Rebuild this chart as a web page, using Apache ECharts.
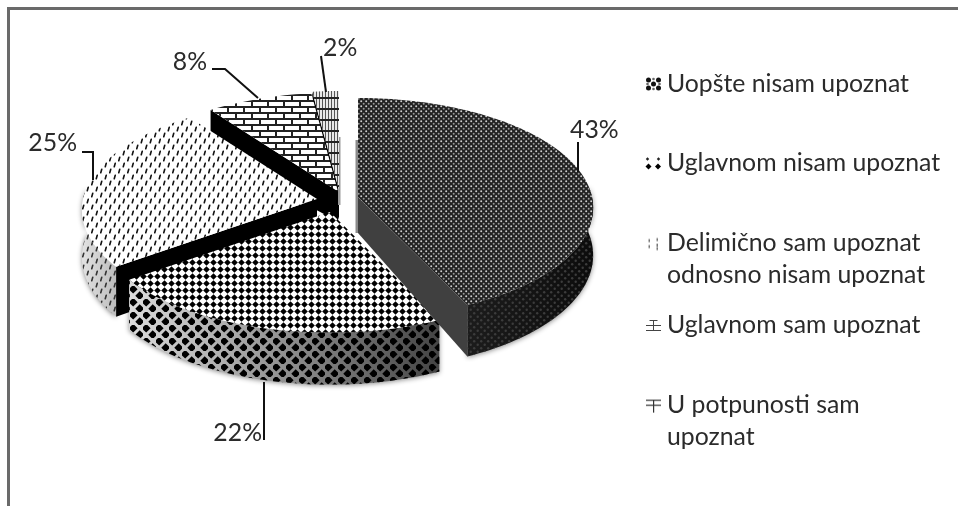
<!DOCTYPE html>
<html><head><meta charset="utf-8">
<style>html,body{margin:0;padding:0;background:#fff}#c{width:958px;height:506px;filter:blur(0.4px)}</style>
<script src="https://cdn.jsdelivr.net/npm/echarts@6/dist/echarts.min.js"></script>
</head><body><div id="c"></div>
<script>
// ---- data ----
const categories = ['Uopšte nisam upoznat','Uglavnom nisam upoznat','Delimično sam upoznat odnosno nisam upoznat','Uglavnom sam upoznat','U potpunosti sam upoznat'];
const legendLabels = ['Uopšte nisam upoznat','Uglavnom nisam upoznat','Delimično sam upoznat\nodnosno nisam upoznat','Uglavnom sam upoznat','U potpunosti sam\nupoznat'];
const values = [43,22,25,8,2];

// ---- projection and look ----
const RX=234, RY=108.7, K=0.098, DEPTH=47;
const apexes=[[358,197],[330,212],[317,199],[338,191.5],[339,190]];
const apexDepth=[36,47,47,30,30];
const FONT='Lato, "Open Sans", sans-serif', INK='#2b2b2b', FS=24.8;

function tile(w,h,bg,draw){
  const c=document.createElement('canvas');c.width=w;c.height=h;
  const x=c.getContext('2d');
  if(bg){x.fillStyle=bg;x.fillRect(0,0,w,h);}
  draw(x);return c;
}
const pat=c=>({image:c,repeat:'repeat'});
function dot(x,cx,cy,r,col){x.fillStyle=col;x.beginPath();x.arc(cx,cy,r,0,7);x.fill();}
function diamond(x,cx,cy,r,col){x.fillStyle=col;x.beginPath();x.moveTo(cx-r,cy);x.lineTo(cx,cy-r);x.lineTo(cx+r,cy);x.lineTo(cx,cy+r);x.closePath();x.fill();}
function dash(x,cx,cy,col,wd){x.strokeStyle=col;x.lineWidth=wd;x.lineCap='round';x.beginPath();x.moveTo(cx-.5,cy+1.7);x.lineTo(cx+.5,cy-1.7);x.stroke();}

const topFills=[
  pat(tile(5,5,'#222222',x=>{dot(x,1.2,1.2,1,'#cfcfcf');dot(x,3.7,3.7,1,'#9a9a9a');})),
  pat(tile(7,7,'#ffffff',x=>{diamond(x,3.5,3.5,3.3,'#000');})),
  pat(tile(9,12,'#ffffff',x=>{dash(x,2.25,3,'#111',1.6);dash(x,6.75,9,'#111',1.6);})),
  pat(tile(16,12,'#ffffff',x=>{x.fillStyle='#222';x.fillRect(0,4,16,2);x.fillRect(0,10,16,2);x.fillRect(3,0,2,4);x.fillRect(11,6,2,4);})),
  pat(tile(3,11,'#e8e8e8',x=>{x.fillStyle='#555';x.fillRect(1,0,1,11);x.fillStyle='#222';x.fillRect(0,9,3,2);}))
];
const wallPats=[
  pat(tile(7,7,null,x=>{dot(x,1.7,1.7,1.2,'#3c3c3c');dot(x,5.2,5.2,1.2,'#3c3c3c');})),
  pat(tile(13,13,null,x=>{diamond(x,3.2,3.2,4.4,'#000');diamond(x,9.7,9.7,4.4,'#000');})),
  pat(tile(9,12,null,x=>{dash(x,2.25,3,'#333',1.6);dash(x,6.75,9,'#333',1.6);}))
];
const grad=(a,b)=>({type:'linear',x:0,y:0,x2:1,y2:0,colorStops:[{offset:0,color:a},{offset:1,color:b}]});
const wallBases=[grad('#1c1c1c','#0c0c0c'),grad('#dcdcdc','#444444'),grad('#e2e2e2','#bdbdbd')];
const radialCols=['#404040',null,'#000','#000','#000'];
const strips=[[355.5,358,140,233,'#8a8a8a'],null,null,null,[338,340.5,137,205,'#9a9a9a']];

const labelSpec=[
  {x:570,y:130,align:'left', line:[[578,142],[578,172]]},
  {x:262,y:433,align:'right',line:[[264,382],[264,440]]},
  {x:77, y:143,align:'right',line:[[82,152],[93,152],[93,180]]},
  {x:207,y:62, align:'right',line:[[212,69],[225,69],[258,98]]},
  {x:323,y:48, align:'left', line:[[321,56],[326,92]]}
];

const total=values.reduce((a,b)=>a+b,0);
function angles(i){let s=0;for(let j=0;j<i;j++)s+=values[j];return [s/total*360,(s+values[i])/total*360];}
function proj(ap,deg,down){
  const t=deg*Math.PI/180,u=Math.sin(t),v=-Math.cos(t),f=1/(1-K*v);
  return [ap[0]+RX*u*f, ap[1]+RY*v*f+(down?DEPTH*f:0)];
}
function arc(ap,a,b,down){const o=[],n=Math.max(2,Math.ceil(Math.abs(b-a)/1.5));for(let k=0;k<=n;k++)o.push(proj(ap,a+(b-a)*k/n,down));return o;}

function sliceRender(i){
  return function(params,api){
    const val=api.value(0);
    const [a0,a1]=angles(i), ap=apexes[i], ch=[];
    const wa=Math.max(a0,84), wb=Math.min(a1,276);
    if(wb>wa && i<3){
      const pts=arc(ap,wa,wb,false).concat(arc(ap,wa,wb,true).reverse());
      ch.push({type:'polygon',shape:{points:pts},style:{fill:wallBases[i],shadowBlur:5,shadowColor:'rgba(0,0,0,.45)',shadowOffsetY:1}});
      ch.push({type:'polygon',shape:{points:pts},style:{fill:wallPats[i]}});
    }
    if(radialCols[i]){
      const edge=(i===0)?a1:a0;
      ch.push({type:'polygon',shape:{points:[ap,proj(ap,edge,false),proj(ap,edge,true),[ap[0],ap[1]+apexDepth[i]]]},style:{fill:radialCols[i]}});
    }
    if(strips[i]){const s=strips[i];ch.push({type:'polygon',shape:{points:[[s[0],s[2]],[s[1],s[2]],[s[1],s[3]],[s[0],s[3]]]},style:{fill:s[4]}});}
    ch.push({type:'polygon',shape:{points:[ap].concat(arc(ap,a0,a1,false))},style:{fill:topFills[i]}});
    const L=labelSpec[i];
    ch.push({type:'polyline',shape:{points:L.line},style:{fill:'none',stroke:'#111',lineWidth:2}});
    ch.push({type:'text',style:{x:L.x,y:L.y,text:Math.round(val/total*100)+'%',align:L.align,verticalAlign:'middle',font:FS+'px '+FONT,fill:INK}});
    return {type:'group',children:ch};
  };
}

// ---- legend swatches ----
function swatch(i,h){
  return 'image://'+tile(17,h,null,x=>{
    const cy=16,cx=8.5;
    if(i===0){[[-5,-4],[5,-4],[-5,4],[5,4],[0,0]].forEach(p=>dot(x,cx+p[0],cy+p[1],2.5,'#111'));[[0,-5],[0,5],[-6,0],[6,0]].forEach(p=>dot(x,cx+p[0],cy+p[1],1.3,'#666'));}
    if(i===1){diamond(x,cx-5,cy+3.5,3,'#000');diamond(x,cx+4.5,cy+3.5,3,'#000');diamond(x,cx-6,cy-4,1.7,'#222');diamond(x,cx+5,cy-4,1.7,'#222');}
    if(i===2){[[-5,-3],[-5,3],[3,-4],[3,1.5],[3,5]].forEach(p=>{x.fillStyle='#777';x.fillRect(cx+p[0],cy+p[1]-1.5,1.5,3);});}
    if(i===3){x.fillStyle='#444';x.fillRect(cx-4,cy-5,8,1);x.fillRect(cx-7.5,cy,15,1);x.fillRect(cx-7.5,cy+5,15,1);x.fillRect(cx-.5,cy-5,1,10);}
    if(i===4){x.fillStyle='#333';x.fillRect(cx-7.5,cy-6,15,1.2);x.fillRect(cx-7.5,cy-1,15,1.2);x.fillRect(cx-.5,cy-6,1.2,13);}
  }).toDataURL();
}

const legendTops=[68,147,227.5,309,389.5];
const chart=echarts.init(document.getElementById('c'),null,{renderer:'canvas'});
chart.setOption({
  animation:false,
  backgroundColor:'#fff',
  legend:categories.map((n,i)=>{
    const two=legendLabels[i].indexOf('\n')>=0, h=two?63:32;
    return {data:[n],left:645,top:legendTops[i],padding:0,orient:'vertical',selectedMode:false,
      icon:swatch(i,h),itemWidth:17,itemHeight:h,
      formatter:()=>legendLabels[i],
      textStyle:{fontFamily:FONT,fontSize:FS,color:INK,lineHeight:31.6}};
  }),
  graphic:[{type:'polyline',silent:true,shape:{points:[[8.5,506],[8.5,8.5],[958,8.5]]},style:{fill:'none',stroke:'#6a6a6a',lineWidth:3}}],
  series:categories.map((n,i)=>({
    type:'custom',name:n,coordinateSystem:'none',z:[6,5,4,3,2][i],
    itemStyle:{color:'#777'},
    data:[[values[i]]],silent:true,
    renderItem:sliceRender(i)
  }))
});
</script></body></html>
